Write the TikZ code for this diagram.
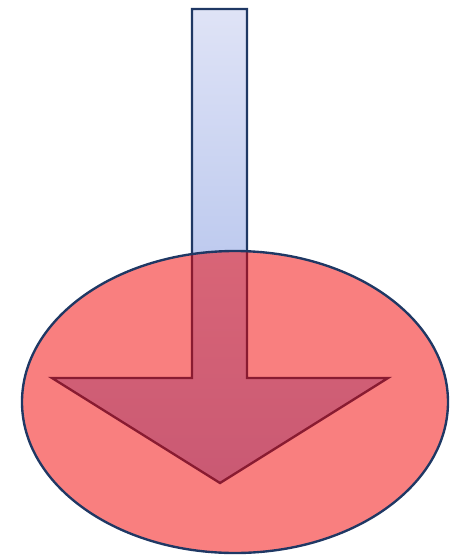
\documentclass[tikz,border=0pt]{standalone}
\begin{document}
\definecolor{navy}{RGB}{31,56,100}
\definecolor{shafttop}{RGB}{223,227,246}
\definecolor{shaftbot}{RGB}{160,180,232}
\definecolor{blobred}{RGB}{243,0,0}
\begin{tikzpicture}[x=0.02cm, y=-0.02cm, line width=1.35pt, line join=miter]
    \useasboundingbox (0,0) rectangle (460,555);

    % -------------------------------
    % 向下箭头
    % -------------------------------
    \draw[navy, top color=shafttop, bottom color=shaftbot]
        (192,9) -- (247,9) -- (247,378) -- (388,378) -- (220,483)
        -- (52,378) -- (192,378) -- cycle;

    % -------------------------------
    % 半透明椭圆
    % -------------------------------
    \fill[blobred, fill opacity=0.5] (235,402) ellipse [x radius=213, y radius=151];
    \draw[navy] (235,402) ellipse [x radius=213, y radius=151];

\end{tikzpicture}
\end{document}
